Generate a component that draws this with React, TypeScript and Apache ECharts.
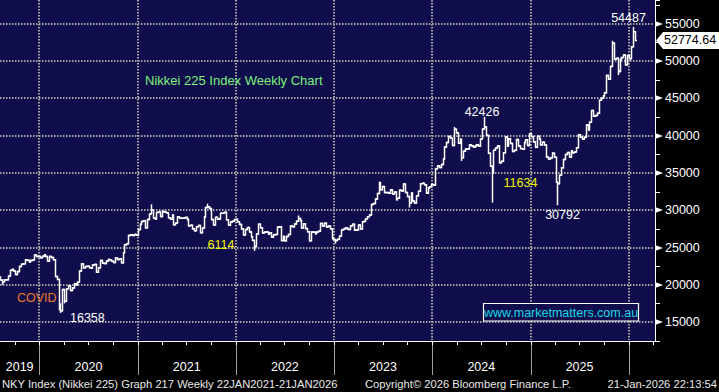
import React, { useEffect, useRef } from 'react';
import * as echarts from 'echarts';

// ---------- DATA ----------
const firstWeekFriday = '2019-08-09';
const firstOpen = 21087;

const closes2019 = [20684, 20419, 20710, 20704, 21199, 21988, 22079, 21879, 21410, 21799, 22492, 22799, 22851, 23392, 23303, 23113, 23293, 23354, 24023, 23816, 23837];
const closes2020 = [23657, 23851, 24041, 23827, 23205, 23828, 23688, 23386, 21143, 20749, 17431, 16553, 19389, 17820, 19498, 19897, 19262, 19619, 20179, 20037, 20388, 21877, 22863, 22305, 22478, 22512, 22306, 22291, 22696, 22751, 21710, 22329, 23289, 22920, 22882, 23205, 23406, 23360, 23204, 23029, 23619, 23410, 23516, 22977, 24325, 25385, 25527, 26644, 26751, 26652, 26763, 26656];
const closes2021 = [27444, 28139, 28519, 28631, 27663, 28779, 29520, 30018, 28966, 28864, 29717, 29792, 29176, 29854, 29768, 29683, 29020, 28813, 29357, 28084, 28317, 29149, 28941, 28948, 28964, 29066, 28783, 27940, 28003, 27548, 27283, 27820, 27977, 27013, 27641, 29128, 30382, 30500, 30248, 28771, 28049, 29068, 28805, 28892, 29611, 29610, 29745, 28751, 28029, 28437, 28545, 28782, 28791];
const closes2022 = [28479, 28124, 27522, 26717, 27440, 27696, 27122, 26476, 25985, 25163, 26827, 28149, 27665, 26986, 27093, 27105, 26848, 27003, 26427, 26739, 26782, 27762, 27824, 25963, 26491, 25935, 26517, 26788, 27915, 27802, 28176, 28547, 28930, 28641, 27650, 28214, 27567, 27153, 25937, 27116, 27090, 26891, 27105, 27199, 28263, 27899, 28283, 27777, 27901, 27527, 26235, 26095];
const closes2023 = [25974, 26120, 26553, 27382, 27509, 27670, 27513, 27453, 27927, 28143, 27333, 27385, 28041, 27518, 28493, 28564, 28856, 29157, 29388, 30808, 30916, 31524, 32265, 33706, 32781, 33189, 32388, 32391, 32304, 32759, 32193, 32474, 31450, 31624, 32710, 32606, 33533, 32402, 31858, 30994, 32315, 31259, 30991, 31950, 32568, 33585, 33625, 33431, 32307, 32970, 33169, 33464];
const closes2024 = [33377, 35577, 35963, 35751, 36158, 36897, 38487, 39098, 39910, 39688, 38707, 40888, 40369, 38992, 39523, 37068, 37934, 38236, 38229, 38787, 38646, 38487, 38683, 38814, 38596, 39583, 40912, 41190, 40063, 37667, 35909, 35025, 38062, 38364, 38647, 36391, 36581, 37723, 39829, 38635, 39605, 38981, 37913, 38053, 39500, 38642, 38283, 38208, 39091, 39470, 38701, 40281];
const closes2025 = [39894, 39190, 38451, 39931, 39572, 38787, 39149, 38776, 37155, 36887, 37053, 37677, 37120, 33781, 33585, 34730, 35705, 36831, 37503, 37753, 37160, 37965, 37742, 37834, 38403, 40150, 39810, 39570, 39819, 41456, 40800, 41820, 43378, 42633, 42718, 43019, 44768, 45046, 45355, 45770, 48089, 47582, 49300, 52411, 50276, 50377, 48626, 50254, 50492, 50837, 49507, 50750];
const closes2026 = [50339, 51940, 53936, 52774.64];

const weeklyLows: [string, number][] = [
  ['2019-08-16', 20110], ['2020-03-13', 16690], ['2020-03-20', 16358], ['2020-04-03', 17646],
  ['2022-03-11', 24681], ['2023-01-06', 25661], ['2023-10-06', 30487], ['2024-04-19', 36733],
  ['2024-08-09', 31156], ['2025-04-11', 30792], ['2025-11-21', 48235],
];
const weeklyHighs: [string, number][] = [
  ['2021-02-19', 30714], ['2021-09-17', 30795], ['2022-08-19', 29222], ['2023-06-16', 33772],
  ['2024-03-22', 41087], ['2024-07-12', 42426], ['2025-10-31', 52636], ['2026-01-16', 54487],
];

const yMajorTicks = [15000, 20000, 25000, 30000, 35000, 40000, 45000, 50000, 55000];
const yearLabels = ['2019', '2020', '2021', '2022', '2023', '2024', '2025'];
const lastPriceLabel = '52774.64';

const titleText = 'Nikkei 225 Index Weekly Chart';
const annotations = [
  { text: '42426', color: '#ffffff', x: 482, y: 111.5, align: 'center' },
  { text: '54487', color: '#ffffff', x: 628.5, y: 17.5, align: 'center' },
  { text: '11634', color: '#f2f200', x: 520.5, y: 182.5, align: 'center' },
  { text: '30792', color: '#ffffff', x: 562.5, y: 215, align: 'center' },
  { text: '6114', color: '#f2f200', x: 221, y: 245, align: 'center' },
  { text: 'COVID', color: '#f07a28', x: 17, y: 298, align: 'left' },
  { text: '16358', color: '#ffffff', x: 70, y: 317.5, align: 'left' },
];
const footerLeft = 'NKY Index (Nikkei 225) Graph 217 Weekly 22JAN2021-21JAN2026';
const footerMid = 'Copyright\u00A9 2026 Bloomberg Finance L.P.';
const footerRight = '21-Jan-2026 22:13:54';
const watermark = 'www.marketmatters.com.au';

// ---------- LAYOUT / STYLE ----------
const W = 719;
const H = 392;
const NAVY = '#0f0d4b';
const FONT = 'Liberation Sans, Arial, sans-serif';
const X_MIN = Date.UTC(2019, 7, 8);
const X_MAX = Date.UTC(2026, 3, 9);
const Y_MIN = 12500;
const Y_MAX = 58200;
const DAY = 86400000;
const GRID = { left: 0, right: 64, top: 0, bottom: 51 };

function buildOhlc() {
  const closes = [...closes2019, ...closes2020, ...closes2021, ...closes2022, ...closes2023, ...closes2024, ...closes2025, ...closes2026];
  const lowMap: Record<string, number> = {};
  weeklyLows.forEach(([d, v]) => (lowMap[d] = v));
  const highMap: Record<string, number> = {};
  weeklyHighs.forEach(([d, v]) => (highMap[d] = v));
  const t0 = Date.parse(firstWeekFriday + 'T00:00:00Z');
  return closes.map((c, i) => {
    const t = t0 + i * 7 * DAY;
    const key = new Date(t).toISOString().slice(0, 10);
    const o = i === 0 ? firstOpen : closes[i - 1];
    let lo = Math.min(o, c);
    let hi = Math.max(o, c);
    if (lowMap[key] !== undefined) lo = Math.min(lo, lowMap[key]);
    if (highMap[key] !== undefined) hi = Math.max(hi, highMap[key]);
    return [t, o, c, lo, hi];
  });
}

export default function App() {
  const ref = useRef<HTMLDivElement>(null);

  useEffect(() => {
    if (!ref.current) return;
    const chart = echarts.init(ref.current, null, { renderer: 'svg' });
    const ohlc = buildOhlc();

    const yearStarts: number[] = [];
    for (let y = 2020; y <= 2026; y++) yearStarts.push(Date.UTC(y, 0, 1));
    const quarterStarts: number[] = [];
    for (let y = 2019; y <= 2026; y++) {
      for (let m = 0; m < 12; m += 3) {
        const t = Date.UTC(y, m, 1);
        if (t > X_MIN && t < X_MAX) quarterStarts.push(t);
      }
    }
    const labelDates = yearLabels.map((s, i) => {
      const y = Number(s);
      const a = Math.max(Date.UTC(y, 0, 1), X_MIN);
      const b = Date.UTC(y + 1, 0, 1);
      return [(a + b) / 2, Y_MIN, i];
    });

    const gridLineStyle = () => ({ stroke: '#a4a4a4', lineWidth: 2, lineDash: [1.5, 1.5] });

    const plotW = W - GRID.left - GRID.right;
    const plotH = H - GRID.top - GRID.bottom;

    const option: any = {
      animation: false,
      backgroundColor: '#000000',
      grid: { ...GRID, show: false },
      xAxis: {
        type: 'time', min: X_MIN, max: X_MAX,
        axisLine: { show: true, lineStyle: { color: '#ffffff', width: 1 } },
        axisTick: { show: false }, axisLabel: { show: false }, splitLine: { show: false },
      },
      yAxis: {
        type: 'value', position: 'right', min: Y_MIN, max: Y_MAX, interval: 2500,
        axisLine: { show: true, lineStyle: { color: '#ffffff', width: 1 } },
        axisTick: { show: true, length: 5, lineStyle: { color: '#ffffff' } },
        splitLine: { show: false },
        axisLabel: {
          margin: 10, color: '#ffffff', fontSize: 12.5, fontFamily: FONT,
          formatter: (v: number) => (v % 5000 === 0 ? String(v) : ''),
        },
      },
      series: [
        {
          type: 'custom', name: 'hgrid', silent: true, z: 3, clip: false,
          encode: { x: 0, y: 1 },
          data: yMajorTicks.map((v) => [X_MIN, v]),
          renderItem: (params: any, api: any) => {
            const p = api.coord([api.value(0), api.value(1)]);
            const y = Math.round(p[1]);
            const x0 = GRID.left;
            const x1 = GRID.left + plotW;
            return {
              type: 'group',
              children: [
                { type: 'line', shape: { x1: x0, y1: y, x2: x1 - 1, y2: y }, style: gridLineStyle() },
                {
                  type: 'polygon',
                  shape: { points: [[x1, y - 3], [x1 + 8, y], [x1, y + 3]] },
                  style: { fill: '#ffffff' },
                },
              ],
            };
          },
        },
        {
          type: 'custom', name: 'vgrid', silent: true, z: 3, clip: false,
          encode: { x: 0, y: 1 },
          data: yearStarts.map((t) => [t, Y_MIN]),
          renderItem: (params: any, api: any) => {
            const p = api.coord([api.value(0), api.value(1)]);
            const x = Math.round(p[0]);
            const top = GRID.top;
            const bottom = GRID.top + plotH;
            return {
              type: 'group',
              children: [
                { type: 'line', shape: { x1: x, y1: top, x2: x, y2: bottom - 1 }, style: gridLineStyle() },
                { type: 'line', shape: { x1: x + 0.5, y1: bottom, x2: x + 0.5, y2: bottom + 34 }, style: { stroke: '#a0a0a0', lineWidth: 1 } },
              ],
            };
          },
        },
        {
          type: 'custom', name: 'qticks', silent: true, z: 3, clip: false,
          encode: { x: 0, y: 1 },
          data: quarterStarts.map((t) => [t, Y_MIN]),
          renderItem: (params: any, api: any) => {
            const p = api.coord([api.value(0), api.value(1)]);
            const x = Math.round(p[0]) + 0.5;
            const bottom = GRID.top + plotH;
            return { type: 'line', shape: { x1: x, y1: bottom, x2: x, y2: bottom + 4 }, style: { stroke: '#ffffff', lineWidth: 1 } };
          },
        },
        {
          type: 'custom', name: 'years', silent: true, z: 3, clip: false,
          encode: { x: 0, y: 1 },
          data: labelDates,
          renderItem: (params: any, api: any) => {
            const p = api.coord([api.value(0), api.value(1)]);
            return {
              type: 'text', x: p[0], y: GRID.top + plotH + 26,
              style: {
                text: yearLabels[api.value(2)], fill: '#ffffff', fontSize: 12.5, fontFamily: FONT,
                align: 'center', verticalAlign: 'middle',
              },
            };
          },
        },
        {
          type: 'custom', name: 'NKY', z: 4, clip: true,
          dimensions: ['time', 'open', 'close', 'low', 'high'],
          encode: { x: 0, y: [1, 2, 3, 4] },
          data: ohlc,
          renderItem: (params: any, api: any) => {
            const t = api.value(0);
            const pO = api.coord([t, api.value(1)]);
            const pC = api.coord([t, api.value(2)]);
            const pL = api.coord([t, api.value(3)]);
            const pH = api.coord([t, api.value(4)]);
            const x = Math.round(pO[0]) + 0.5;
            const st = { stroke: '#ffffff', lineWidth: 1.5 };
            return {
              type: 'group',
              children: [
                { type: 'line', shape: { x1: x, y1: pH[1] - 0.75, x2: x, y2: pL[1] + 0.75 }, style: st },
                { type: 'line', shape: { x1: x - 1.5, y1: pO[1], x2: x, y2: pO[1] }, style: st },
                { type: 'line', shape: { x1: x, y1: pC[1], x2: x + 1.5, y2: pC[1] }, style: st },
              ],
            };
          },
        },
      ],
    };
    chart.setOption(option);

    const lastVal = ohlc[ohlc.length - 1][2];
    const yLast = chart.convertToPixel({ yAxisIndex: 0 }, lastVal) as number;
    const txt = (text: string, x: number, y: number, fill: string, size: number, align: string) => ({
      type: 'text', x, y, z: 100,
      style: { text, fill, fontSize: size, fontFamily: FONT, align, verticalAlign: 'middle', textAlign: align, textVerticalAlign: 'middle' },
    });

    chart.setOption({
      graphic: [
        {
          type: 'rect', z: -10, silent: true,
          shape: { x: GRID.left, y: GRID.top, width: plotW, height: plotH },
          style: { fill: NAVY },
        },
        txt(titleText, 145, 80, '#7cf07c', 13, 'left'),
        ...annotations.map((a) => txt(a.text, a.x, a.y, a.color, 12.5, a.align)),
        {
          type: 'rect', z: 99, shape: { x: 483.5, y: 303.5, width: 155, height: 17.5 },
          style: { fill: NAVY, stroke: '#ffffff', lineWidth: 1.2 },
        },
        txt(watermark, 561, 312.5, '#1ad8e6', 12.5, 'center'),
        {
          type: 'polygon', z: 99,
          shape: { points: [[656, yLast], [663, yLast - 8.5], [719, yLast - 8.5], [719, yLast + 8.5], [663, yLast + 8.5]] },
          style: { fill: '#ffffff' },
        },
        txt(lastPriceLabel, 664, yLast, '#000000', 12.5, 'left'),
        txt(footerLeft, 2, 384, '#e8e8e8', 11.2, 'left'),
        txt(footerMid, 365, 384, '#e8e8e8', 11.2, 'left'),
        txt(footerRight, 717, 384, '#e8e8e8', 11.2, 'right'),
      ],
    });

    return () => chart.dispose();
  }, []);

  return <div ref={ref} style={{ position: 'fixed', left: 0, top: 0, width: W, height: H }} />;
}
